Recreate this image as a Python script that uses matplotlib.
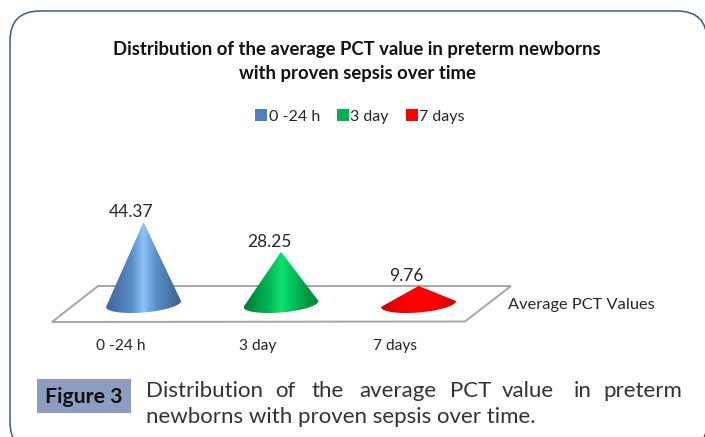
"""Cone chart of average PCT value over time, with the journal caption below."""

import matplotlib

matplotlib.use("Agg")
import matplotlib.pyplot as plt
import numpy as np
from matplotlib.colors import LinearSegmentedColormap
from matplotlib.patches import FancyBboxPatch, Patch, PathPatch, Polygon, Rectangle
from matplotlib.path import Path

plt.rcParams["font.family"] = ["Lato", "DejaVu Sans"]

categories = ["0 -24 h", "3 day", "7 days"]
values = [44.37, 28.25, 9.76]
series_name = "Average PCT Values"
title_lines = [
    "Distribution of the average PCT value in preterm newborns",
    "with proven sepsis over time",
]
caption_line1 = ["Distribution", "of", "the", "average", "PCT", "value", "in", "preterm"]
caption_line2 = "newborns with proven sepsis over time."

caption_x = [146, 275, 312, 359, 450, 502, 574, 603]
legend_colors = ["#4f81bd", "#00b050", "#ff0000"]
cone_stops = [
    ["#3f6b9f", "#4a78ad", "#5a8cc5", "#8cc2fb", "#5c90ca", "#4a78a8", "#35608f"],
    ["#007a35", "#009a45", "#00b856", "#10e070", "#00bf5a", "#009a45", "#00853a"],
    ["#c40000", "#e60000", "#ff0000", "#ff0000", "#ff0000", "#ee0000", "#d00000"],
]

W, H = 705, 437
X0, DX = 143.5, 137.5  # pixel x of first cone, spacing between cones
Y0, SY = 304.0, 1.845  # pixel y of value 0, pixels per unit

fig = plt.figure(figsize=(W / 100, H / 100), dpi=100)

# page furniture in pixel coordinates
page = fig.add_axes([0, 0, 1, 1])
page.set_xlim(0, W)
page.set_ylim(H, 0)
page.axis("off")
page.add_patch(FancyBboxPatch((40, 41), 637, 381, boxstyle="round,pad=30,rounding_size=30",
                              fc="white", ec="#3a5a8a", lw=1.1, clip_on=True))
page.add_patch(Polygon([(52, 322), (465, 321.5), (511, 286), (98, 286)], closed=True,
                       fc="white", ec="#a6a6a6", lw=1.4))
page.add_patch(Rectangle((37, 379), 94, 34, fc="#8c9dbf", ec="none"))
page.text(84, 397, "Figure 3", ha="center", va="center", fontsize=15.3, fontweight="bold",
          color="#111111")
for word, x in zip(caption_line1, caption_x):
    page.text(x, 391, word, ha="left", va="center", fontsize=16, color="#333333")
page.text(146, 417, caption_line2, ha="left", va="center", fontsize=16, color="#333333")
for line, y in zip(title_lines, [50, 74]):
    page.text(357, y, line, ha="center", va="center", fontsize=13.3, fontweight="bold",
              color="#111111")
page.text(508, 305, series_name, ha="left", va="center", fontsize=11.8, color="#262626")

# chart axes: x is the category index, y is the value
chart = fig.add_axes([0, 0, 1, 1], facecolor="none")
chart.axis("off")
xlim = (-X0 / DX, (W - X0) / DX)
ylim = ((Y0 - H) / SY, Y0 / SY)

half_w = 37.5 / DX
tilt = 3.0 / SY
half_h = 8.5 / SY

for i, (value, stops) in enumerate(zip(values, cone_stops)):
    t = np.linspace(np.pi, 0, 60)
    xs = i + half_w * np.cos(t)
    ys = half_h * np.sin(t) * -1 + tilt * np.cos(t)
    verts = [(i, value)] + list(zip(xs, ys)) + [(i, value)]
    cone = PathPatch(Path(verts), fc="none", ec="none", transform=chart.transData)
    chart.add_patch(cone)
    cmap = LinearSegmentedColormap.from_list(f"cone{i}", stops)
    img = chart.imshow(np.linspace(0, 1, 200)[None, :], cmap=cmap, aspect="auto",
                       extent=(i - half_w, i + half_w, -half_h - tilt, value), zorder=2)
    img.set_clip_path(cone)
    chart.annotate(f"{value:.2f}", (i, value), xytext=(-12, 10),
                   textcoords="offset pixels", ha="center", va="center",
                   fontsize=12.5, color="#262626")
    chart.annotate(categories[i], (i, 0), xytext=(-23, -42), textcoords="offset pixels",
                   ha="center", va="center", fontsize=11.2, color="#262626")

chart.set_xlim(*xlim)
chart.set_ylim(*ylim)

handles = [Patch(fc=c, ec="none") for c in legend_colors]
chart.legend(handles, categories, loc="center", bbox_to_anchor=(360 / W, 1 - 116.5 / H), ncol=3,
             frameon=False, fontsize=11.5, handlelength=0.75, handleheight=0.75,
             handletextpad=0.1, columnspacing=1.05, labelcolor="#262626")

fig.savefig("out.png", dpi=100)
